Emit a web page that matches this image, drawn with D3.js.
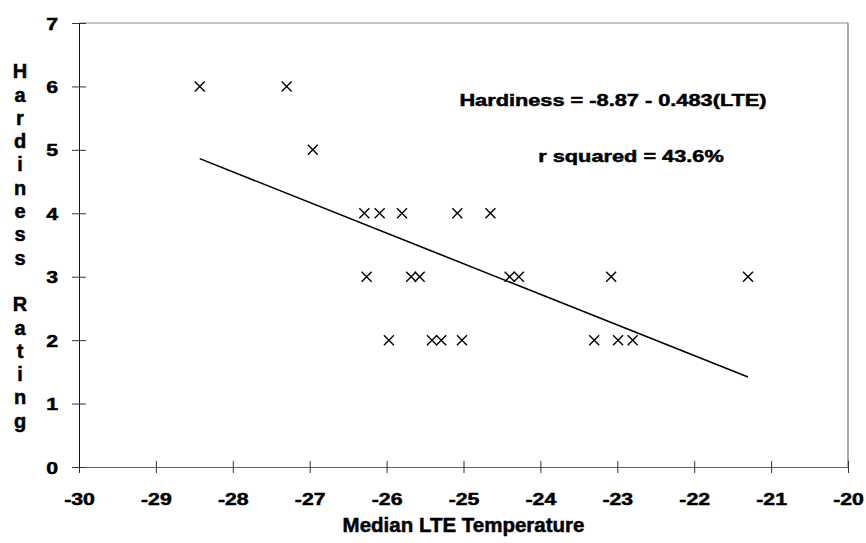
<!DOCTYPE html>
<html lang="en">
<head>
    <meta charset="UTF-8">
    <title>Hardiness vs Median LTE Temperature</title>
    <script src="https://d3js.org/d3.v7.min.js"></script>
    <style>
        body {
            margin: 0;
            padding: 0;
            background: #fff;
        }
        svg text {
            font-family: "Liberation Sans", Arial, sans-serif !important;
            font-weight: 700 !important;
            fill: #000;
        }
        svg text.heavy {
            stroke: #000;
            stroke-width: 0.5px;
        }
    </style>
</head>
<body>
    <svg width="866" height="543"></svg>
    <script>
        // data
        const lte = [-28.43, -27.30, -26.96,
            -26.29, -26.09, -25.80, -25.08, -24.65,
            -26.26, -25.68, -25.57, -24.40, -24.28, -23.08, -21.30,
            -25.97, -25.41, -25.29, -25.02, -23.30, -22.99, -22.80];
        const hardiness = [6, 6, 5,
            4, 4, 4, 4, 4,
            3, 3, 3, 3, 3, 3, 3,
            2, 2, 2, 2, 2, 2, 2];
        const xTicks = [-30, -29, -28, -27, -26, -25, -24, -23, -22, -21, -20];
        const yTicks = [0, 1, 2, 3, 4, 5, 6, 7];
        // fitted line: Hardiness = -8.87 - 0.483(LTE)
        const intercept = -8.87;
        const slope = -0.483;

        const svg = d3.select("svg"),
            width = +svg.attr("width"),
            height = +svg.attr("height");

        const margin = {top: 23, right: 18, bottom: 76, left: 79};
        const x = d3.scaleLinear().domain([-30, -20]).range([margin.left, width - margin.right]);
        const y = d3.scaleLinear().domain([0, 7]).range([height - margin.bottom, margin.top]);

        // frame: top and right edges
        svg.append("line")
            .attr("x1", x(-30)).attr("x2", x(-20))
            .attr("y1", y(7)).attr("y2", y(7))
            .attr("stroke", "#8a8a8a").attr("stroke-width", 1);
        svg.append("line")
            .attr("x1", x(-20)).attr("x2", x(-20))
            .attr("y1", y(7)).attr("y2", y(0))
            .attr("stroke", "#555").attr("stroke-width", 1);

        // x axis
        const gx = svg.append("g")
            .attr("transform", `translate(0,${y(0)})`)
            .call(d3.axisBottom(x).tickValues(xTicks).tickFormat(d3.format("d")).tickSizeOuter(0))
            .attr("font-family", null).attr("font-size", null);
        gx.select(".domain").attr("stroke", "#666");
        gx.selectAll(".tick line").attr("y1", -6).attr("y2", 6).attr("stroke", "#333");
        gx.selectAll(".tick text")
            .attr("class", "heavy")
            .attr("y", 38).attr("dy", null)
            .attr("transform", "scale(1.25,1)")
            .attr("font-size", 17)
            .attr("font-weight", "bold")
            .text(d => d < 0 ? "-" + Math.abs(d) : d);

        // y axis
        const gy = svg.append("g")
            .attr("transform", `translate(${x(-30)},0)`)
            .call(d3.axisLeft(y).tickValues(yTicks).tickFormat(d3.format("d")).tickSizeOuter(0))
            .attr("font-family", null).attr("font-size", null);
        gy.select(".domain").attr("stroke", "#111");
        gy.selectAll(".tick line").attr("x1", -7).attr("x2", 7).attr("stroke", "#333");
        gy.selectAll(".tick text")
            .attr("class", "heavy")
            .attr("x", -21 / 1.25).attr("dy", "0.36em")
            .attr("transform", "scale(1.25,1)")
            .attr("font-size", 17)
            .attr("font-weight", "bold");

        // regression line over the range of the data
        const xMin = d3.min(lte), xMax = d3.max(lte);
        svg.append("line")
            .attr("x1", x(xMin)).attr("y1", y(intercept + slope * xMin))
            .attr("x2", x(xMax)).attr("y2", y(intercept + slope * xMax))
            .attr("stroke", "#000").attr("stroke-width", 1.6);

        // x-shaped markers
        const pts = lte.map((v, i) => ({lte: v, h: hardiness[i]}));
        const s = 5;
        svg.append("g")
            .selectAll("path")
            .data(pts)
            .enter().append("path")
            .attr("d", d => {
                const cx = x(d.lte), cy = y(d.h);
                return `M${cx - s},${cy - s}L${cx + s},${cy + s}M${cx - s},${cy + s}L${cx + s},${cy - s}`;
            })
            .attr("stroke", "#000")
            .attr("stroke-width", 1.4)
            .attr("fill", "none");

        // annotation
        svg.append("text")
            .attr("class", "heavy")
            .attr("transform", "translate(613,106) scale(1.28,1)")
            .attr("text-anchor", "middle")
            .attr("font-size", 17)
            .text("Hardiness = -8.87 - 0.483(LTE)");
        svg.append("text")
            .attr("class", "heavy")
            .attr("transform", "translate(631,162) scale(1.28,1)")
            .attr("text-anchor", "middle")
            .attr("font-size", 17)
            .text("r squared = 43.6%");

        // axis titles
        svg.append("text")
            .attr("class", "heavy")
            .attr("x", (x(-30) + x(-20)) / 2)
            .attr("y", 532)
            .attr("text-anchor", "middle")
            .attr("font-size", 20.5)
            .text("Median LTE Temperature");

        // y title is stacked one letter per row
        const yTitle = "Hardiness Rating".split("");
        svg.append("g")
            .selectAll("text")
            .data(yTitle)
            .enter().append("text")
            .attr("class", "heavy")
            .attr("x", 20)
            .attr("y", (d, i) => 71 + i * 23.3)
            .attr("dy", "0.36em")
            .attr("text-anchor", "middle")
            .attr("font-size", 20)
            .text(d => d);
    </script>
</body>
</html>
